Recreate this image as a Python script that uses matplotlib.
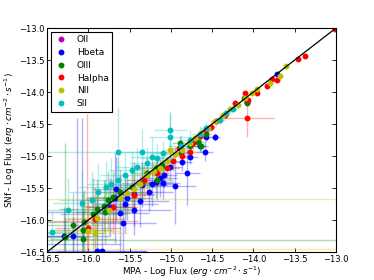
import matplotlib
matplotlib.use("Agg")
import matplotlib.pyplot as plt

# --- data (log flux) ---
oii_x, oii_y, oii_xe, oii_ye = [], [], [], []

hb_x = [-16.30, -16.19, -16.14, -16.08, -15.90, -15.84, -15.58, -15.45, -15.56, -15.61,
        -15.66, -15.68, -15.74, -15.53, -15.37, -15.27, -15.23, -15.18, -15.13, -15.09,
        -14.95, -15.08, -15.01, -14.87, -14.80, -14.77, -14.65, -14.59, -14.57, -14.47,
        -14.08, -13.71, -15.35, -15.45, -16.70, -16.70]
hb_y = [-16.25, -16.25, -16.85, -16.90, -16.48, -16.48, -16.05, -15.84, -15.75, -15.89,
        -15.52, -15.66, -15.80, -15.65, -15.71, -15.56, -15.43, -15.40, -15.34, -15.42,
        -15.47, -15.30, -15.17, -15.09, -15.27, -15.01, -14.84, -14.93, -14.70, -14.70,
        -14.16, -13.72, -15.45, -15.60, -15.88, -16.37]
hb_xe = [0.25, 0.45, 0.30, 0.35, 0.60, 0.55, 0.40, 0.45, 0.40, 0.35,
         0.30, 0.35, 0.30, 0.30, 0.35, 0.30, 0.25, 0.20, 0.20, 0.20,
         0.25, 0.15, 0.15, 0.12, 0.15, 0.10, 0.08, 0.10, 0.06, 0.06,
         0.04, 0.02, 0.30, 0.25, 0.90, 1.10]
hb_ye = [0.45, 0.30, 2.45, 2.50, 0.90, 0.70, 0.55, 0.40, 0.45, 0.60,
         0.50, 0.70, 0.45, 0.35, 0.40, 0.30, 0.35, 0.25, 0.30, 0.25,
         0.60, 0.20, 0.20, 0.15, 0.50, 0.12, 0.10, 0.15, 0.08, 0.06,
         0.05, 0.02, 0.35, 0.50, 0.10, 0.10]

o3_x = [-16.28, -16.19, -16.06, -16.06, -16.05, -15.94, -15.90, -15.80, -15.81, -15.76,
        -15.70, -15.62, -15.47, -15.35, -15.29, -15.18, -15.17, -15.11, -14.88, -14.89,
        -14.77, -14.67, -14.63, -14.57, -14.08, -14.11, -16.28, -16.70, -16.70]
o3_y = [-16.26, -16.08, -16.29, -16.16, -16.03, -15.90, -15.83, -15.88, -15.78, -15.69,
        -15.64, -15.56, -15.48, -15.42, -15.27, -15.19, -15.38, -15.14, -14.95, -14.80,
        -14.85, -14.78, -14.84, -14.65, -14.17, -14.10, -16.90, -16.32, -16.20]
o3_xe = [0.30, 0.35, 0.40, 0.35, 0.45, 0.40, 0.45, 0.35, 0.30, 0.35,
         0.30, 0.30, 0.30, 0.25, 0.20, 0.20, 0.20, 0.15, 0.12, 0.10,
         0.08, 0.08, 0.08, 0.06, 0.04, 0.03, 0.30, 3.80, 0.90]
o3_ye = [0.30, 0.50, 0.45, 0.60, 0.50, 0.55, 0.45, 0.50, 0.40, 0.45,
         0.40, 0.35, 0.35, 0.30, 0.25, 0.20, 0.30, 0.20, 0.15, 0.12,
         0.10, 0.08, 0.10, 0.06, 0.04, 0.03, 2.10, 0.10, 0.10]

ha_x = [-13.01, -13.46, -13.38, -13.77, -13.72, -13.84, -13.96, -14.07, -14.08, -14.10,
        -14.22, -14.34, -14.45, -14.51, -14.57, -14.65, -14.73, -14.77, -14.87, -14.97,
        -15.05, -15.17, -15.33, -15.45, -15.92, -16.00, -15.70, -16.01, -14.90, -16.70]
ha_y = [-13.01, -13.49, -13.44, -13.79, -13.81, -13.91, -14.01, -14.12, -14.40, -14.02,
        -14.17, -14.36, -14.46, -14.54, -14.59, -14.69, -14.80, -14.93, -15.00, -15.08,
        -15.19, -15.27, -15.37, -15.61, -15.98, -16.12, -15.80, -16.90, -14.87, -16.02]
ha_xe = [0.01, 0.02, 0.02, 0.02, 0.02, 0.03, 0.03, 0.03, 0.33, 0.03,
         0.04, 0.05, 0.06, 0.06, 0.07, 0.08, 0.08, 0.10, 0.10, 0.12,
         0.15, 0.15, 0.20, 0.25, 0.35, 0.40, 0.30, 0.30, 0.10, 1.30]
ha_ye = [0.01, 0.02, 0.02, 0.02, 0.02, 0.03, 0.03, 0.04, 0.30, 0.03,
         0.04, 0.06, 0.06, 0.07, 0.08, 0.08, 0.10, 0.12, 0.12, 0.15,
         0.15, 0.20, 0.25, 0.30, 0.50, 0.45, 0.40, 2.55, 0.10, 0.10]

n2_x = [-13.60, -13.68, -13.80, -13.96, -14.02, -14.10, -14.19, -14.28, -14.37, -14.47,
        -14.55, -14.63, -14.71, -14.77, -14.87, -14.95, -15.01, -15.05, -15.13, -15.21,
        -15.29, -15.37, -15.45, -15.53, -15.61, -15.75, -15.90, -16.00, -15.92, -16.70,
        -16.70]
n2_y = [-13.59, -13.75, -13.86, -13.95, -14.02, -14.10, -14.21, -14.26, -14.36, -14.46,
        -14.56, -14.64, -14.72, -14.80, -14.90, -14.97, -14.90, -15.08, -15.19, -15.24,
        -15.30, -15.43, -15.51, -15.58, -15.66, -15.84, -15.97, -16.17, -16.21, -15.67,
        -16.45]
n2_xe = [0.02, 0.02, 0.03, 0.03, 0.03, 0.04, 0.04, 0.05, 0.05, 0.06,
         0.06, 0.07, 0.08, 0.08, 0.10, 0.10, 0.10, 0.12, 0.15, 0.15,
         0.18, 0.20, 0.22, 0.25, 0.30, 0.30, 0.35, 0.40, 0.40, 3.80,
         3.80]
n2_ye = [0.02, 0.02, 0.03, 0.03, 0.03, 0.04, 0.04, 0.05, 0.06, 0.06,
         0.07, 0.07, 0.08, 0.09, 0.10, 0.12, 0.10, 0.14, 0.15, 0.18,
         0.20, 0.25, 0.28, 0.30, 0.35, 0.40, 0.45, 0.50, 0.50, 0.10,
         0.10]

s2_x = [-16.44, -16.24, -16.08, -15.96, -15.88, -15.78, -15.72, -15.64, -15.56, -15.47,
        -15.64, -15.41, -15.29, -15.17, -15.09, -15.01, -15.01, -14.88, -14.77, -14.65,
        -14.57, -14.41, -14.33, -14.25, -15.35, -15.23]
s2_y = [-16.18, -15.85, -15.74, -15.69, -15.56, -15.48, -15.43, -15.38, -15.30, -15.22,
        -14.93, -15.17, -15.11, -15.03, -14.96, -14.70, -14.60, -14.85, -14.75, -14.65,
        -14.57, -14.44, -14.33, -14.26, -14.93, -15.01]
s2_xe = [0.30, 0.35, 0.35, 0.40, 0.35, 0.35, 0.30, 0.30, 0.30, 0.28,
         0.90, 0.25, 0.22, 0.20, 0.18, 0.25, 0.20, 0.15, 0.12, 0.10,
         0.08, 0.07, 0.06, 0.05, 0.30, 0.25]
s2_ye = [0.30, 0.50, 0.50, 0.45, 0.45, 0.40, 0.40, 0.35, 0.35, 0.30,
         0.70, 0.30, 0.25, 0.22, 0.20, 0.35, 0.30, 0.18, 0.15, 0.12,
         0.10, 0.08, 0.07, 0.06, 0.35, 0.30]

series = [
    ("OII", (0.75, 0, 0.75), oii_x, oii_y, oii_xe, oii_ye),
    ("Hbeta", (0, 0, 1), hb_x, hb_y, hb_xe, hb_ye),
    ("OIII", (0, 0.5, 0), o3_x, o3_y, o3_xe, o3_ye),
    ("Halpha", (1, 0, 0), ha_x, ha_y, ha_xe, ha_ye),
    ("NII", (0.75, 0.75, 0), n2_x, n2_y, n2_xe, n2_ye),
    ("SII", (0, 0.75, 0.75), s2_x, s2_y, s2_xe, s2_ye),
]

ticks = [-16.5, -16.0, -15.5, -15.0, -14.5, -14.0, -13.5, -13.0]
lo, hi = -16.5, -13.0

fig = plt.figure(figsize=(3.74, 2.80), dpi=100)
ax = fig.add_axes([0.1257, 0.1, 0.7727, 0.8])

for name, col, x, y, xe, ye in series:
    if x:
        ax.errorbar(x, y, xerr=xe, yerr=ye, fmt="none", ecolor=col,
                    alpha=0.3, lw=1)
for name, col, x, y, xe, ye in series:
    ax.plot(x, y, "o", color=col, mec=col, ms=3.2, label=name)

ax.plot([lo, hi], [lo, hi], color="k", lw=0.9)

ax.set_xlim(lo, hi)
ax.set_ylim(lo, hi)
ax.set_xticks(ticks)
ax.set_yticks(ticks)
ax.tick_params(direction="in", top=True, right=True, labelsize=6, length=3,
               width=0.6)
ax.tick_params(axis="x", pad=2.5)
ax.tick_params(axis="y", pad=2)
for sp in ax.spines.values():
    sp.set_linewidth(0.8)

ax.set_xlabel(r"MPA - Log Flux ($erg \cdot cm^{-2} \cdot s^{-1}$)", fontsize=6.3,
              labelpad=0)
ax.set_ylabel(r"SNf - Log Flux ($erg \cdot cm^{-2} \cdot s^{-1}$)", fontsize=6.3,
              labelpad=1)

leg = ax.legend(loc="upper left", numpoints=1, fontsize=6.5, fancybox=False,
                framealpha=1, edgecolor="k", labelspacing=0.42,
                handlelength=1.5, handletextpad=1.0, borderpad=0.4,
                borderaxespad=0.4)
leg.get_frame().set_linewidth(0.8)

fig.savefig("out.png", dpi=100)
